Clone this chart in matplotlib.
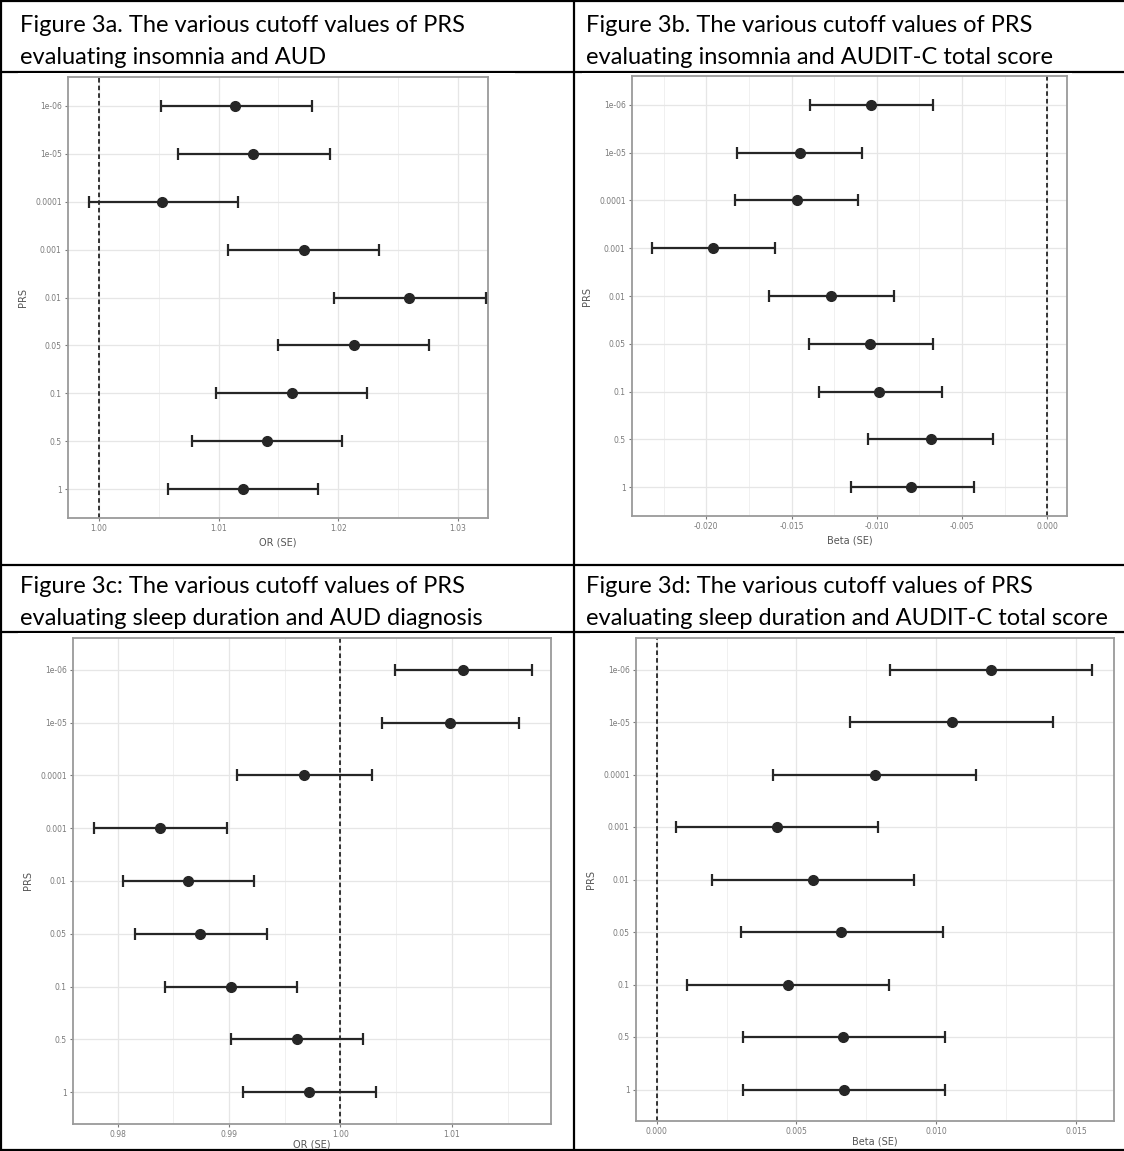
import matplotlib
matplotlib.use("Agg")
import matplotlib.pyplot as plt
from matplotlib.patches import Rectangle
import numpy as np

W, H = 1124, 1151

# PRS p-value cutoffs, top to bottom
cutoffs = ['1e-06', '1e-05', '0.0001', '0.001', '0.01', '0.05', '0.1', '0.5', '1']

# 3a: insomnia and AUD (OR)
a_est = [1.0114, 1.0129, 1.0053, 1.0171, 1.0259, 1.0213, 1.0161, 1.0140, 1.0120]
a_lo = [1.0052, 1.0066, 0.9992, 1.0108, 1.0196, 1.0150, 1.0098, 1.0078, 1.0058]
a_hi = [1.0178, 1.0193, 1.0116, 1.0234, 1.0323, 1.0276, 1.0224, 1.0203, 1.0183]

# 3b: insomnia and AUDIT-C (beta)
b_est = [-0.01035, -0.0145, -0.0147, -0.0196, -0.0127, -0.0104, -0.0099, -0.0068, -0.0080]
b_lo = [-0.0139, -0.0182, -0.0183, -0.0232, -0.0163, -0.0140, -0.0134, -0.0105, -0.0115]
b_hi = [-0.0067, -0.0109, -0.0111, -0.0160, -0.0090, -0.0067, -0.0062, -0.0032, -0.0043]

# 3c: sleep duration and AUD diagnosis (OR)
c_est = [1.0110, 1.0098, 0.9967, 0.9838, 0.9863, 0.9874, 0.9902, 0.9961, 0.9972]
c_lo = [1.0049, 1.0037, 0.9907, 0.9779, 0.9805, 0.9816, 0.9843, 0.9902, 0.9913]
c_hi = [1.0172, 1.0160, 1.0028, 0.9898, 0.9922, 0.9934, 0.9961, 1.0020, 1.0032]

# 3d: sleep duration and AUDIT-C (beta)
d_est = [0.01197, 0.01056, 0.0078, 0.0043, 0.0056, 0.00661, 0.0047, 0.00668, 0.00671]
d_lo = [0.00834, 0.00692, 0.00416, 0.0007, 0.00198, 0.0030, 0.0011, 0.00307, 0.00308]
d_hi = [0.01558, 0.01417, 0.01141, 0.00792, 0.0092, 0.01025, 0.00832, 0.01032, 0.01032]

a_ticks = [1.00, 1.01, 1.02, 1.03]
a_ticklabels = ['1.00', '1.01', '1.02', '1.03']
b_ticks = [-0.020, -0.015, -0.010, -0.005, 0.000]
b_ticklabels = ['-0.020', '-0.015', '-0.010', '-0.005', '0.000']
c_ticks = [0.98, 0.99, 1.00, 1.01]
c_ticklabels = ['0.98', '0.99', '1.00', '1.01']
d_ticks = [0.000, 0.005, 0.010, 0.015]
d_ticklabels = ['0.000', '0.005', '0.010', '0.015']

titles = [
    ("Figure 3a. The various cutoff values of PRS", "evaluating insomnia and AUD"),
    ("Figure 3b. The various cutoff values of PRS", "evaluating insomnia and AUDIT-C total score"),
    ("Figure 3c: The various cutoff values of PRS", "evaluating sleep duration and AUD diagnosis"),
    ("Figure 3d: The various cutoff values of PRS", "evaluating sleep duration and AUDIT-C total score"),
]

title_font = ['Lato', 'DejaVu Sans']

fig = plt.figure(figsize=(W / 100, H / 100), dpi=100)
bg = fig.add_axes([0, 0, 1, 1])
bg.set_xlim(0, W)
bg.set_ylim(H, 0)
bg.axis('off')

# table borders
lw = 1.6
bg.plot([0, W], [1, 1], color='black', lw=lw)
bg.plot([1, 1], [0, H], color='black', lw=lw)
bg.plot([574, 574], [0, H], color='black', lw=lw)
bg.plot([0, W], [565, 565], color='black', lw=lw)
bg.plot([0, W], [1150, 1150], color='black', lw=lw)
bg.plot([0, W], [72, 72], color='black', lw=lw)
bg.plot([0, W], [632, 632], color='black', lw=lw)

# white chart image areas hide the cell lines
for (x0, x1, y0, y1) in [(18, 515, 73, 562), (582, 1072, 73, 562),
                         (18, 560, 633, 1148), (590, 1115, 633, 1148)]:
    bg.add_patch(Rectangle((x0, y0), x1 - x0, y1 - y0, facecolor='white',
                           edgecolor='none', zorder=5))

# size the title font so the first line is about 447 px wide, like the reference
probe = fig.text(0, 0, titles[0][0], fontsize=20, family=title_font)
renderer = fig.canvas.get_renderer()
tw = probe.get_window_extent(renderer).width
probe.remove()
tsize = 20 * 447 / tw

title_pos = [(20, 25), (586, 25), (20, 586), (586, 586)]
for (t1, t2), (tx, ty) in zip(titles, title_pos):
    bg.text(tx, ty, t1, fontsize=tsize, family=title_font, va='center', ha='left', zorder=6)
    bg.text(tx, ty + 32, t2, fontsize=tsize, family=title_font, va='center', ha='left', zorder=6)


def px_axes(l, r, t, b):
    return fig.add_axes([l / W, 1 - b / H, (r - l) / W, (b - t) / H])


def forest(ax, est, lo, hi, ref, xlim, ticks, ticklabels, xlabel, xpad=3):
    y = np.arange(len(cutoffs))
    est = np.array(est)
    err = [est - np.array(lo), np.array(hi) - est]
    ax.axvline(ref, color='black', ls=(0, (3, 2)), lw=1.1, zorder=2)
    ax.errorbar(est, y, xerr=err, fmt='o', color='#262626', ms=7,
                elinewidth=1.6, capsize=4, capthick=1.6, zorder=3)
    ax.set_xlim(*xlim)
    ax.set_ylim(len(cutoffs) - 0.4, -0.6)
    ax.set_yticks(y)
    ax.set_yticklabels(cutoffs)
    ax.set_xticks(ticks)
    ax.set_xticklabels(ticklabels)
    step = ticks[1] - ticks[0]
    minor = [t + step / 2 for t in [ticks[0] - step] + list(ticks)]
    minor = [m for m in minor if xlim[0] < m < xlim[1]]
    ax.set_xticks(minor, minor=True)
    ax.tick_params(axis='x', which='minor', length=0)
    ax.grid(True, which='major', color='#e6e6e6', lw=0.9)
    ax.grid(True, which='minor', axis='x', color='#f0f0f0', lw=0.7)
    ax.set_axisbelow(True)
    ax.tick_params(axis='both', which='major', labelsize=5.5, colors='#7a7a7a',
                   length=2.5, width=0.8, pad=2)
    for s in ax.spines.values():
        s.set_color('#9a9a9a')
        s.set_linewidth(1.3)
    ax.set_ylabel('PRS', fontsize=7, color='#555555', labelpad=5)
    ax.set_xlabel(xlabel, fontsize=7, color='#555555', labelpad=xpad)


ax_a = px_axes(68, 488, 77, 518)
forest(ax_a, a_est, a_lo, a_hi, 1.0, (0.99742, 1.0325), a_ticks, a_ticklabels, 'OR (SE)')
ax_b = px_axes(632, 1067, 76, 516)
forest(ax_b, b_est, b_lo, b_hi, 0.0, (-0.02436, 0.00115), b_ticks, b_ticklabels, 'Beta (SE)')
ax_c = px_axes(73, 551, 638, 1124)
forest(ax_c, c_est, c_lo, c_hi, 1.0, (0.9760, 1.0189), c_ticks, c_ticklabels, 'OR (SE)', xpad=0.5)
ax_d = px_axes(636, 1114, 638, 1121)
forest(ax_d, d_est, d_lo, d_hi, 0.0, (-0.00074, 0.01636), d_ticks, d_ticklabels, 'Beta (SE)', xpad=0.5)

fig.savefig('out.png', dpi=100)
